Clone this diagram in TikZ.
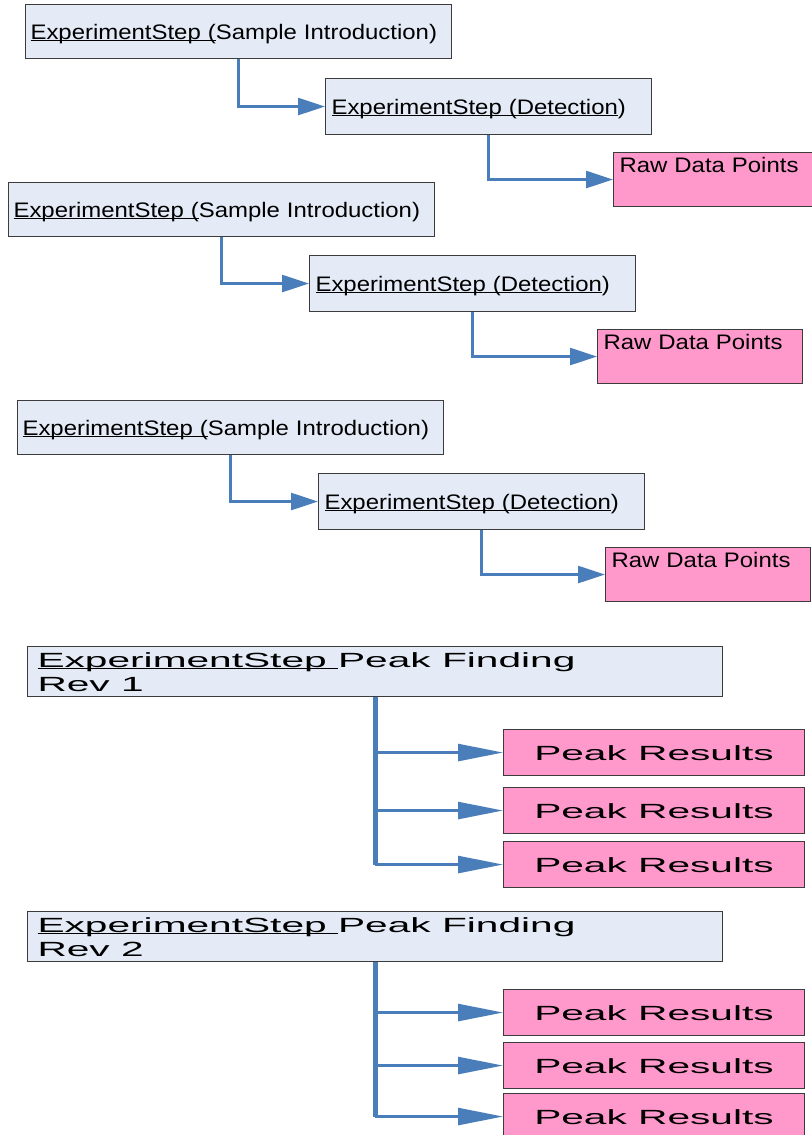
\documentclass[tikz,border=0pt]{standalone}
\usepackage{fontspec}
\setmainfont{Liberation Sans}
\newfontfamily\stepfont[FakeStretch=1.14]{Liberation Sans}
\newfontfamily\peakfont[FakeStretch=1.98]{Liberation Sans}
\usetikzlibrary{arrows.meta}

\definecolor{stepfill}{HTML}{E4EBF6}
\definecolor{resultfill}{HTML}{FF99CC}
\definecolor{boxline}{HTML}{3C3C3C}
\definecolor{linkblue}{HTML}{4A7EBB}

% underline sitting just below the baseline, through the descenders
\newcommand\ulin[1]{\setbox0\hbox{#1}\rlap{\rule[-1.6pt]{\wd0}{0.8pt}}\box0}
\newcommand\smallsize{\fontsize{15.75pt}{18pt}\selectfont}
\newcommand\peaksize{\fontsize{15.4pt}{18pt}\selectfont}
% wide word gap for the stretched face
\newcommand\gap{\hspace{8.5pt}}

\tikzset{
  basebox/.style={rectangle, draw=boxline, line width=0.8pt, anchor=north west,
    inner ysep=0pt},
  introbox/.style={basebox, fill=stepfill, font=\stepfont\smallsize,
    inner xsep=3.75pt, text width=312pt, minimum height=40.5pt,
    text height=11.25pt, text depth=0pt, align=left},
  detbox/.style={basebox, fill=stepfill, font=\stepfont\smallsize,
    inner xsep=4.5pt, text width=235.5pt, minimum height=42pt,
    text height=11.25pt, text depth=0pt, align=left},
  rawbox/.style={basebox, fill=resultfill, font=\stepfont\smallsize,
    inner xsep=4.5pt, inner ysep=3pt, text width=144.75pt,
    text height=12pt, text depth=22.5pt, align=left},
  findbox/.style={basebox, fill=stepfill, font=\peakfont\peaksize,
    inner xsep=7.5pt, text width=506.25pt, minimum height=37.5pt,
    text height=11.25pt, text depth=18pt, align=left},
  resultbox/.style={basebox, fill=resultfill, font=\peakfont\peaksize,
    inner xsep=0pt, text width=225.75pt, minimum height=34.5pt,
    text height=11.25pt, text depth=0pt, align=center},
  link/.style={draw=linkblue, line width=1.9pt,
    -{Triangle[length=20.25pt,width=12.75pt]}},
  trunk/.style={draw=linkblue, line width=3.75pt},
  branch/.style={draw=linkblue, line width=1.9pt,
    -{Triangle[length=33.75pt,width=12.75pt]}},
}

\begin{document}
\begin{tikzpicture}[x=0.75pt,y=-0.75pt]
\useasboundingbox[fill=white] (0,0) rectangle (812,1135);

% three acquisition chains
\node[introbox] (si1) at (25,4) {\ulin{ExperimentStep (}Sample Introduction)};
\node[detbox] (det1) at (325,78) {\ulin{ExperimentStep (Detection})};
\node[rawbox] (raw1) at (613,152) {Raw Data Points};
\draw[link] (si1.south) |- (det1.west);
\draw[link] (det1.south) |- (raw1.west);

\node[introbox] (si2) at (8,182) {\ulin{ExperimentStep (}Sample Introduction)};
\node[detbox] (det2) at (309,255) {\ulin{ExperimentStep (Detection})};
\node[rawbox] (raw2) at (597,329) {Raw Data Points};
\draw[link] (si2.south) |- (det2.west);
\draw[link] (det2.south) |- (raw2.west);

\node[introbox] (si3) at (17,400) {\ulin{ExperimentStep (}Sample Introduction)};
\node[detbox] (det3) at (318,473) {\ulin{ExperimentStep (Detection})};
\node[rawbox] (raw3) at (605,547) {Raw Data Points};
\draw[link] (si3.south) |- (det3.west);
\draw[link] (det3.south) |- (raw3.west);

% peak finding, revision 1
\node[findbox] (pf1) at (27,646) {\ulin{ExperimentStep\gap}Peak\gap Finding\\Rev\gap 1};
\node[resultbox] (pr1a) at (503,729) {Peak\gap Results};
\node[resultbox] (pr1b) at (503,787) {Peak\gap Results};
\node[resultbox] (pr1c) at (503,841) {Peak\gap Results};
\draw[trunk] (pf1.south) -- (pf1.south |- pr1c.west);
\draw[branch] (pf1.south |- pr1a.west) -- (pr1a.west);
\draw[branch] (pf1.south |- pr1b.west) -- (pr1b.west);
\draw[branch] (pf1.south |- pr1c.west) -- (pr1c.west);

% peak finding, revision 2
\node[findbox] (pf2) at (27,911) {\ulin{ExperimentStep\gap}Peak\gap Finding\\Rev\gap 2};
\node[resultbox] (pr2a) at (503,989) {Peak\gap Results};
\node[resultbox] (pr2b) at (503,1042) {Peak\gap Results};
\node[resultbox] (pr2c) at (503,1093) {Peak\gap Results};
\draw[trunk] (pf2.south) -- (pf2.south |- pr2c.west);
\draw[branch] (pf2.south |- pr2a.west) -- (pr2a.west);
\draw[branch] (pf2.south |- pr2b.west) -- (pr2b.west);
\draw[branch] (pf2.south |- pr2c.west) -- (pr2c.west);
\end{tikzpicture}
\end{document}
